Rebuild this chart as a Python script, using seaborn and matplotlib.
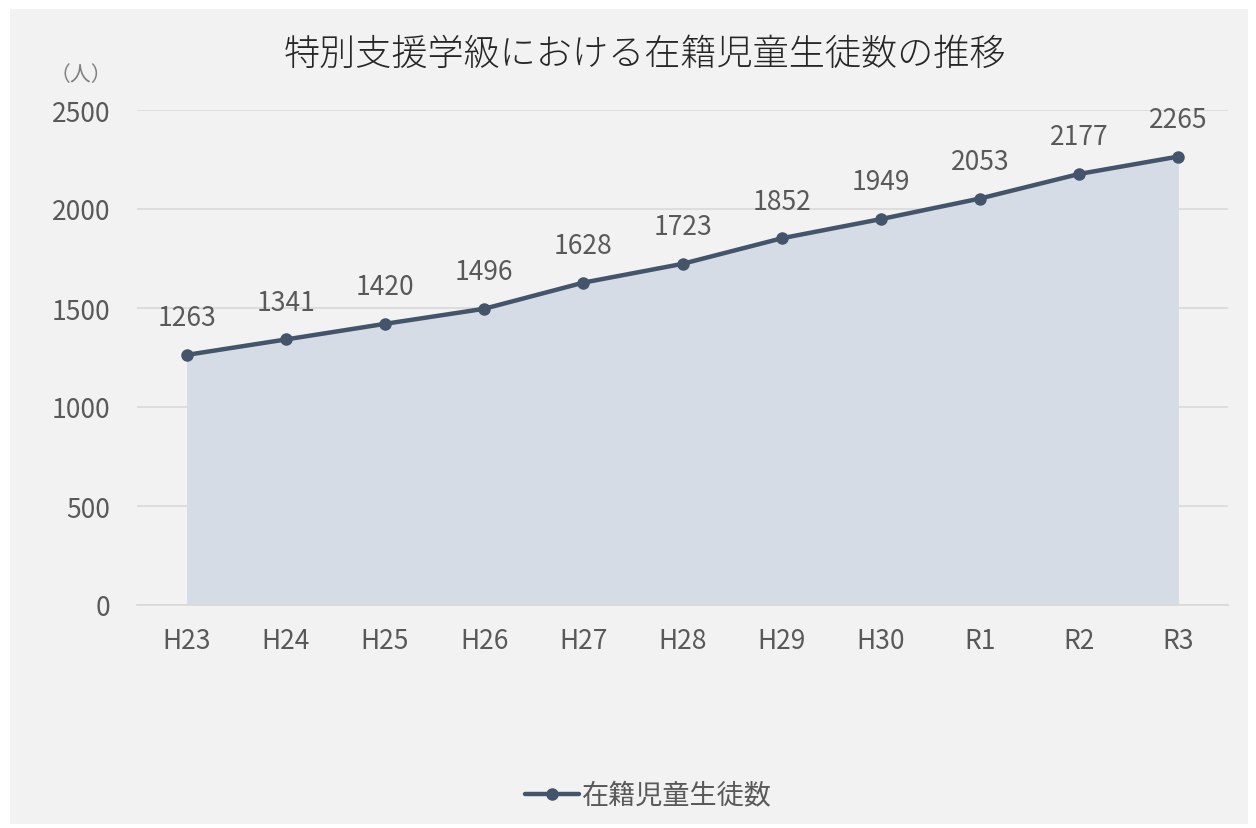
import matplotlib
matplotlib.use("Agg")
import matplotlib.pyplot as plt
import seaborn as sns
import pandas as pd
import numpy as np

years = ["H23", "H24", "H25", "H26", "H27", "H28", "H29", "H30", "R1", "R2", "R3"]
students = [1263, 1341, 1420, 1496, 1628, 1723, 1852, 1949, 2053, 2177, 2265]
series_name = "在籍児童生徒数"
title = "特別支援学級における在籍児童生徒数の推移"
yticks = [0, 500, 1000, 1500, 2000, 2500]

sns.set_style("white")
plt.rcParams['font.family'] = ['Noto Sans CJK JP', 'DejaVu Sans']

df = pd.DataFrame({"year": years, "value": students, "pos": np.arange(len(years))})

line_c = "#44546a"
fill_c = "#d6dce5"
text_c = "#595959"
bg = "#f2f2f2"

fig = plt.figure(figsize=(12.56, 8.29), dpi=100)
fig.patch.set_facecolor("white")
fig.add_artist(plt.Rectangle((10/1256, 4/829), 1238/1256, 815/829, transform=fig.transFigure,
                             facecolor=bg, edgecolor="none", zorder=-10))
ax = fig.add_axes([137/1256, 1-606/829, (1228-137)/1256, (606-111)/829])
ax.set_facecolor(bg)

ax.fill_between(df["pos"], df["value"], 0, color=fill_c, linewidth=0, zorder=1)
sns.lineplot(data=df, x="pos", y="value", ax=ax, color=line_c, linewidth=3.2,
             marker="o", markersize=9, markeredgewidth=0, label=series_name, zorder=3)

for x, v in zip(df["pos"], df["value"]):
    ax.annotate(str(v), (x, v), xytext=(0, 17), textcoords="offset points",
                ha="center", va="bottom", fontsize=19, color=text_c)

ax.set_xlim(-0.5, len(years) - 0.5)
ax.set_ylim(0, 2500)
ax.set_yticks(yticks)
ax.set_yticklabels([str(t) for t in yticks])
ax.set_xticks(df["pos"])
ax.set_xticklabels(years)
ax.tick_params(axis="both", length=0, labelsize=19, labelcolor=text_c)
ax.tick_params(axis="y", pad=19)
ax.tick_params(axis="x", pad=16)
ax.grid(axis="y", color="#d9d9d9", linewidth=1.2, zorder=0)
ax.set_axisbelow(True)
for s in ["top", "right", "left"]:
    ax.spines[s].set_visible(False)
ax.spines["bottom"].set_color("#d9d9d9")
ax.spines["bottom"].set_linewidth(1.2)
ax.set_xlabel("")
ax.set_ylabel("")

fig.text(645/1256, 1-55/829, title, ha="center", va="center", fontsize=26, color="#262626",
         fontweight="light")
fig.text(81/1256, 1-75/829, "（人）", ha="center", va="center", fontsize=15, color="#7f7f7f")

leg = ax.legend(loc="center", bbox_to_anchor=(648/1256, 1-797/829), bbox_transform=fig.transFigure,
                frameon=False, fontsize=19.5, handlelength=2.0, handletextpad=0.1)
for t in leg.get_texts():
    t.set_color(text_c)

fig.savefig("out.png", dpi=100, facecolor=fig.get_facecolor())
